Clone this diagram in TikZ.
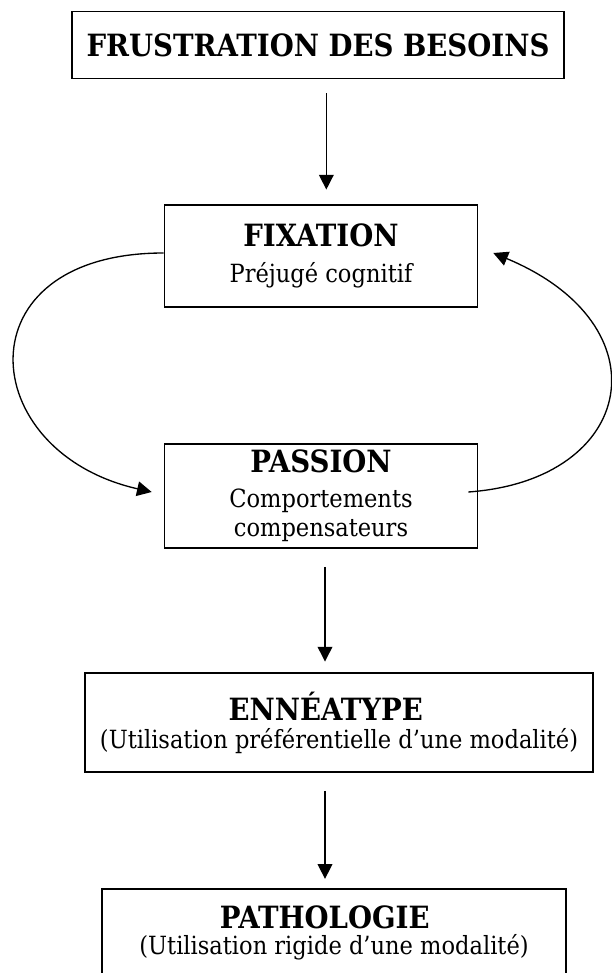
\documentclass[tikz,border=0pt]{standalone}
\usepackage{fontspec}
\setmainfont{DejaVu Serif Condensed}
\usetikzlibrary{arrows.meta}

\newcommand{\gras}[1]{{\fontsize{23}{26}\bfseries\selectfont #1}}

\begin{document}
\begin{tikzpicture}[x=0.75pt, y=-0.75pt,
	boite/.style={draw, line width=1.2pt, inner sep=0pt, align=center,
		font=\fontsize{18.8}{22}\selectfont},
	fleche/.style={line width=1pt, -{Triangle[width=11pt,length=11pt]}}]
	\useasboundingbox (0,0) rectangle (611,973);

	\node[boite, minimum width=369pt, minimum height=50pt] (frust) at (318,45) {\gras{FRUSTRATION DES BESOINS}};
	\node[boite, minimum width=234.75pt, minimum height=76.5pt] (fix) at (321,256) {\gras{FIXATION}\\[5pt] Préjugé cognitif};
	\node[boite, minimum width=234.75pt, minimum height=78pt] (pass) at (321,496) {\gras{PASSION}\\[4pt] Comportements\\ compensateurs};
	\node[boite, minimum width=381pt, minimum height=74.25pt] (ennea) at (339,722.5) {\gras{ENNÉATYPE}\hspace*{20pt}\\[-1pt] (Utilisation préférentielle d’une modalité)};
	\node[boite, minimum width=348pt, minimum height=66pt] (patho) at (334,933) {\gras{PATHOLOGIE}\hspace*{14pt}\\[-2pt] (Utilisation rigide d’une modalité)};

	\draw[fleche, shorten <=10.5pt, shorten >=11pt] ([xshift=4pt]frust.south -| fix.north) -- ([xshift=4pt]fix.north);
	\draw[fleche, shorten <=13.5pt, shorten >=8pt] ([xshift=3pt]pass.south) -- ([xshift=3pt]pass.south |- ennea.north);
	\draw[fleche, shorten <=13.5pt, shorten >=7pt] ([xshift=3pt]ennea.south -| pass.south) -- ([xshift=3pt]patho.north -| pass.south);

	% boucle fixation / passion
	\draw[fleche] ([yshift=2.25pt]fix.west) .. controls +(-204,0) and +(-177,-40) .. ([shift={(-12,-4)}]pass.west);
	\draw[fleche] ([shift={(-10,-4)}]pass.east) .. controls +(168,-12) and +(173,72) .. ([shift={(15,-3)}]fix.east);
\end{tikzpicture}
\end{document}
